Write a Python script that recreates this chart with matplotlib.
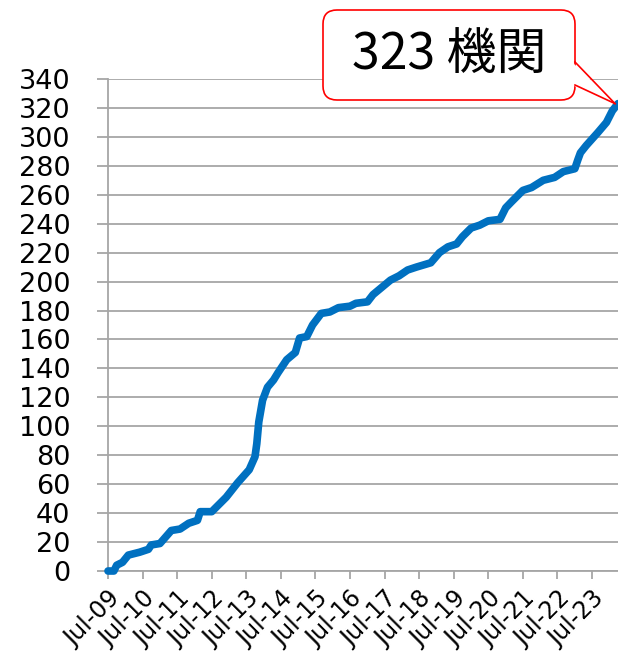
import matplotlib
matplotlib.use("Agg")
import matplotlib.dates as mdates
import matplotlib.pyplot as plt
import pandas as pd
from matplotlib.patches import FancyBboxPatch, Polygon


# cumulative number of institutions
DATES = [
    "2009-07-01", "2009-09-01", "2009-10-01", "2009-12-01", "2010-02-01",
    "2010-06-01", "2010-09-01", "2010-10-01", "2011-01-01", "2011-05-01",
    "2011-08-01", "2011-11-01", "2012-02-01", "2012-03-01", "2012-07-01",
    "2012-10-01", "2012-12-01", "2013-04-01", "2013-08-01", "2013-10-01",
    "2013-10-20", "2013-11-10", "2013-12-20", "2014-02-10", "2014-04-15",
    "2014-06-01", "2014-09-01", "2014-12-01", "2015-01-15", "2015-04-01",
    "2015-06-01", "2015-09-01", "2015-12-01", "2016-03-01", "2016-07-01",
    "2016-09-01", "2017-01-01", "2017-03-01", "2017-09-01", "2017-12-01",
    "2018-03-01", "2018-06-01", "2018-11-01", "2019-02-01", "2019-05-01",
    "2019-08-01", "2019-10-01", "2020-01-01", "2020-04-01", "2020-07-01",
    "2020-11-01", "2021-01-01", "2021-03-01", "2021-07-01", "2021-10-01",
    "2022-02-01", "2022-06-01", "2022-09-01", "2023-01-01", "2023-02-01",
    "2023-03-01", "2023-05-01", "2023-09-01", "2023-12-01", "2024-02-01",
    "2024-04-01",
]
COUNTS = [
    0, 0, 4, 6, 11,
    13, 15, 18, 19, 28,
    29, 33, 35, 41, 41,
    47, 51, 61, 70, 79,
    88, 103, 118, 127, 132,
    137, 146, 151, 161, 162,
    170, 178, 179, 182, 183,
    185, 186, 191, 201, 204,
    208, 210, 213, 220, 224,
    226, 231, 237, 239, 242,
    243, 251, 255, 263, 265,
    270, 272, 276, 278, 284,
    289, 294, 303, 310, 318,
    323,
]
Y_TICKS = list(range(0, 341, 20))
CALLOUT = "323 機関"

W, H = 618, 657
BLUE = "#0070C0"
GRID = "#A6A6A6"

dates = pd.to_datetime(DATES)

fig = plt.figure(figsize=(W / 100, H / 100), dpi=100)
ax = fig.add_axes([108 / W, 1 - 571 / H, 510 / W, 492 / H])

ax.plot(dates, COUNTS, color=BLUE, lw=5.5, solid_joinstyle="round",
        solid_capstyle="round", zorder=3, clip_on=False)

ax.set_ylim(0, 340)
ax.set_yticks(Y_TICKS)
ax.set_xlim(dates[0], dates[-1])
ax.xaxis.set_major_locator(mdates.MonthLocator(bymonth=7))
ax.xaxis.set_major_formatter(mdates.DateFormatter("%b-%y"))

ax.grid(axis="y", color=GRID, lw=1.3)
ax.set_axisbelow(True)
for side in ["top", "right"]:
    ax.spines[side].set_visible(False)
for side in ["left", "bottom"]:
    ax.spines[side].set_color(GRID)
    ax.spines[side].set_linewidth(1.3)

ax.tick_params(axis="y", length=8, width=1.3, color=GRID, labelsize=19.5, pad=19)
ax.tick_params(axis="x", length=6, width=1.3, color=GRID, labelsize=17, pad=5)
plt.setp(ax.get_xticklabels(), rotation=45, ha="right", va="top",
         rotation_mode="anchor")

# callout box drawn on an overlay in pixel units
over = fig.add_axes([0, 0, 1, 1], zorder=10)
over.set_xlim(0, W)
over.set_ylim(H, 0)
over.axis("off")

tip_disp = ax.transData.transform((mdates.date2num(dates[-1]), COUNTS[-1]))
tip = over.transData.inverted().transform(tip_disp)
tip = (tip[0] - 3, tip[1])

box = FancyBboxPatch((323, 10), 252, 90, boxstyle="round,pad=0,rounding_size=14",
                     fc="white", ec="#FF0000", lw=1.2, zorder=1)
over.add_patch(box)
over.add_patch(Polygon([(572, 62), (572, 85), tip], closed=True, fc="white",
                       ec="none", zorder=2))
over.plot([575, tip[0]], [62, tip[1]], color="#FF0000", lw=1.2, zorder=3)
over.plot([575, tip[0]], [85, tip[1]], color="#FF0000", lw=1.2, zorder=3)
over.text(449, 56, CALLOUT, fontsize=36, ha="center", va="center",
          family=["Noto Sans CJK JP", "DejaVu Sans"], zorder=4)

fig.savefig("out.png", dpi=100)
